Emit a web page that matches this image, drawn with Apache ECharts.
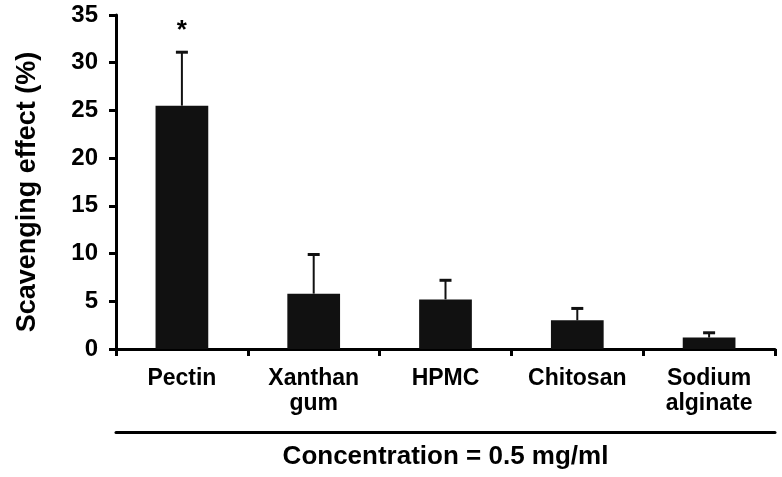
<!DOCTYPE html>
<html>
<head>
<meta charset="utf-8">
<script src="https://cdn.jsdelivr.net/npm/echarts@6/dist/echarts.min.js"></script>
<style>
html,body{margin:0;padding:0;background:#fff;overflow:hidden;}
#chart{width:782px;height:477px;}
</style>
</head>
<body>
<div id="chart"></div>
<script>
var categories = ['Pectin', 'Xanthan\ngum', 'HPMC', 'Chitosan', 'Sodium\nalginate'];
var meanValues = [25.5, 5.8, 5.2, 3.0, 1.2];
var errorUpper = [31.1, 9.9, 7.2, 4.25, 1.7];
var significance = ['*', '', '', '', ''];
var yTicks = [0, 5, 10, 15, 20, 25, 30, 35];

var FONT = '"Liberation Sans", Arial, sans-serif';
var chart = echarts.init(document.getElementById('chart'), null, {renderer: 'canvas'});

var errData = categories.map(function (c, i) { return [i, meanValues[i], errorUpper[i]]; });

var option = {
  backgroundColor: '#fff',
  animation: false,
  grid: {left: 116, right: 7, top: 15, bottom: 128, containLabel: false, outerBoundsMode: 'none'},
  xAxis: [{
    type: 'category',
    data: categories,
    position: 'bottom',
    axisLine: {lineStyle: {color: '#000', width: 3}},
    axisTick: {show: true, inside: false, length: 7, alignWithLabel: false, lineStyle: {color: '#000', width: 3}},
    axisLabel: {color: '#000', fontFamily: FONT, fontWeight: 'bold', fontSize: 23, lineHeight: 25, margin: 17, interval: 0},
    splitLine: {show: false}
  }, {
    type: 'category',
    data: categories,
    position: 'bottom',
    offset: 83,
    axisLine: {lineStyle: {color: '#000', width: 3}},
    axisTick: {show: false},
    axisLabel: {show: false},
    splitLine: {show: false},
    name: 'Concentration = 0.5 mg/ml',
    nameLocation: 'middle',
    nameGap: 12,
    nameTextStyle: {color: '#000', fontFamily: FONT, fontWeight: 'bold', fontSize: 26}
  }],
  yAxis: {
    type: 'value',
    min: 0, max: 35, interval: 5,
    name: 'Scavenging effect (%)',
    nameLocation: 'middle',
    nameGap: 75,
    nameRotate: 90,
    nameTextStyle: {color: '#000', fontFamily: FONT, fontWeight: 'bold', fontSize: 27, padding: [0, 20, 0, 0]},
    axisLine: {show: true, lineStyle: {color: '#000', width: 3}},
    axisTick: {show: true, inside: false, length: 7, lineStyle: {color: '#000', width: 3}},
    axisLabel: {color: '#000', fontFamily: FONT, fontWeight: 'bold', fontSize: 24, margin: 18,
      formatter: function (v) { return yTicks.indexOf(v) >= 0 ? String(v) : ''; }},
    splitLine: {show: false}
  },
  series: [{
    type: 'bar',
    xAxisIndex: 0,
    data: meanValues,
    barWidth: '40%',
    itemStyle: {color: '#111'},
    z: 2
  }, {
    type: 'custom',
    xAxisIndex: 0,
    data: errData,
    z: 1,
    renderItem: function (params, api) {
      var idx = api.value(0);
      var base = api.coord([idx, api.value(1)]);
      var top = api.coord([idx, api.value(2)]);
      var half = 6;
      var children = [
        {type: 'line', shape: {x1: top[0], y1: base[1], x2: top[0], y2: top[1]}, style: {stroke: '#111', lineWidth: 2}},
        {type: 'line', shape: {x1: top[0] - half, y1: top[1], x2: top[0] + half, y2: top[1]}, style: {stroke: '#111', lineWidth: 3}}
      ];
      var s = significance[params.dataIndex];
      if (s) {
        children.push({type: 'text', x: top[0], y: top[1] - 8,
          style: {text: s, fill: '#000', font: 'bold 26px ' + FONT, align: 'center', verticalAlign: 'bottom'}});
      }
      return {type: 'group', children: children};
    }
  }]
};
chart.setOption(option);
</script>
</body>
</html>
